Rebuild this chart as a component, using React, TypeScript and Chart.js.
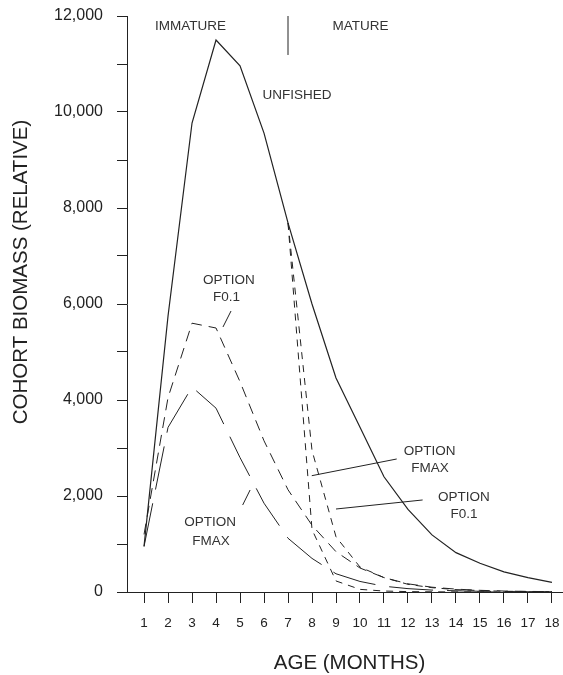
import React, { useEffect, useRef } from "react";
import { Chart, registerables } from "chart.js";

Chart.register(...registerables);

// ---------- data ----------
const ages = [1, 2, 3, 4, 5, 6, 7, 8, 9, 10, 11, 12, 13, 14, 15, 16, 17, 18];
const unfished = [950, 5750, 9770, 11500, 10960, 9560, 7690, 6000, 4460, 3430, 2400, 1720, 1190, 820, 600, 420, 300, 200];
const f01Immature = [1200, 4050, 5600, 5500, 4380, 3150, 2130, 1390, 840, 500, 300, 170, 100, 60, 35, 20, 12, 8];
const fmaxImmature = [950, 3430, 4270, 3830, 2800, 1850, 1120, 700, 380, 220, 120, 70, 40, 25, 15, 10, 6, 4];
const fmaxMature = [null, null, null, null, null, null, 7690, 1300, 230, 55, 20, 8, 4, 2, 1, 1, 0, 0];
const f01Mature = [null, null, null, null, null, null, 7690, 2950, 1150, 520, 300, 160, 90, 50, 30, 15, 10, 5];

const xTickValues = ages;
const yTickValues = [0, 1000, 2000, 3000, 4000, 5000, 6000, 7000, 8000, 9000, 10000, 11000, 12000];

// annotation texts in data units (age, biomass)
const annotationTexts = [
  { text: "IMMATURE", age: 2.94, value: 11790 },
  { text: "MATURE", age: 10.02, value: 11790 },
  { text: "UNFISHED", age: 7.375, value: 10354 },
  { text: "OPTION", age: 4.54, value: 6500 },
  { text: "F0.1", age: 4.44, value: 6146 },
  { text: "OPTION", age: 3.75, value: 1458 },
  { text: "FMAX", age: 3.79, value: 1062 },
  { text: "OPTION", age: 12.9, value: 2937 },
  { text: "FMAX", age: 12.92, value: 2583 },
  { text: "OPTION", age: 14.33, value: 1979 },
  { text: "F0.1", age: 14.33, value: 1625 },
];

// pointer / divider lines in data units
const annotationLines = [
  { a1: 7, v1: 12000, a2: 7, v2: 11188 },
  { a1: 4.625, v1: 5854, a2: 4.29, v2: 5521 },
  { a1: 5.42, v1: 2125, a2: 5.11, v2: 1812 },
  { a1: 11.53, v1: 2771, a2: 7.99, v2: 2423 },
  { a1: 12.61, v1: 1917, a2: 9.0, v2: 1729 },
];

const FONT = "'Liberation Sans', Arial, Helvetica, sans-serif";
const INK = "#222";

const toPoints = (vals: (number | null)[]) =>
  ages.map((a, i) => ({ x: a, y: vals[i] as number | null }));

const annotationPlugin = {
  id: "annotations",
  afterDraw(chart: any) {
    const { ctx, scales } = chart;
    const xs = scales.x;
    const ys = scales.y;
    ctx.save();
    ctx.strokeStyle = INK;
    ctx.lineWidth = 1;
    annotationLines.forEach((l) => {
      ctx.beginPath();
      ctx.moveTo(xs.getPixelForValue(l.a1), ys.getPixelForValue(l.v1));
      ctx.lineTo(xs.getPixelForValue(l.a2), ys.getPixelForValue(l.v2));
      ctx.stroke();
    });
    ctx.fillStyle = "#333";
    ctx.font = `13.5px ${FONT}`;
    ctx.textAlign = "center";
    ctx.textBaseline = "middle";
    annotationTexts.forEach((t) => {
      ctx.fillText(t.text, xs.getPixelForValue(t.age), ys.getPixelForValue(t.value));
    });
    // axis titles
    ctx.fillStyle = INK;
    ctx.font = `20.5px ${FONT}`;
    ctx.fillText("AGE (MONTHS)", 349.5, 663);
    ctx.translate(21, 272);
    ctx.rotate(-Math.PI / 2);
    ctx.fillText("COHORT BIOMASS (RELATIVE)", 0, 0);
    ctx.restore();
  },
};

export default function App() {
  const ref = useRef<HTMLCanvasElement | null>(null);

  useEffect(() => {
    if (!ref.current) return;
    const chart = new Chart(ref.current, {
      type: "line",
      data: {
        datasets: [
          {
            label: "Unfished",
            data: toPoints(unfished),
            borderColor: INK,
            borderWidth: 1.2,
            pointRadius: 0,
            tension: 0,
          },
          {
            label: "Option F0.1 (immature)",
            data: toPoints(f01Immature),
            borderColor: INK,
            borderWidth: 1,
            borderDash: [11, 7],
            pointRadius: 0,
            tension: 0,
          },
          {
            label: "Option FMAX (immature)",
            data: toPoints(fmaxImmature),
            borderColor: INK,
            borderWidth: 1,
            borderDash: [44, 14],
            pointRadius: 0,
            tension: 0,
          },
          {
            label: "Option FMAX (mature)",
            data: toPoints(fmaxMature),
            borderColor: INK,
            borderWidth: 1,
            borderDash: [7, 6],
            pointRadius: 0,
            tension: 0,
          },
          {
            label: "Option F0.1 (mature)",
            data: toPoints(f01Mature),
            borderColor: INK,
            borderWidth: 1,
            borderDash: [7, 6],
            pointRadius: 0,
            tension: 0,
          },
        ],
      },
      options: {
        responsive: false,
        animation: false,
        devicePixelRatio: 1,
        layout: { padding: { top: 16, right: 0, left: 0, bottom: 0 } },
        plugins: {
          legend: { display: false },
          tooltip: { enabled: false },
          title: { display: false },
        },
        scales: {
          x: {
            type: "linear",
            min: 0.29,
            max: 18.46,
            afterBuildTicks: (scale: any) => {
              scale.ticks = xTickValues.map((v) => ({ value: v }));
            },
            afterFit: (scale: any) => {
              scale.height = 83;
              scale.paddingLeft = 0;
              scale.paddingRight = 0;
            },
            ticks: {
              font: { family: FONT, size: 13.5 },
              color: INK,
              padding: 12,
              maxRotation: 0,
              autoSkip: false,
              callback: (v: any) => String(v),
            },
            grid: {
              drawOnChartArea: false,
              drawTicks: true,
              tickLength: 11,
              color: INK,
              lineWidth: 1,
            },
            border: { display: true, color: INK, width: 1 },
          },
          y: {
            type: "linear",
            min: 0,
            max: 12000,
            afterBuildTicks: (scale: any) => {
              scale.ticks = yTickValues.map((v) => ({ value: v }));
            },
            afterFit: (scale: any) => {
              scale.width = 127;
              scale.paddingTop = 0;
              scale.paddingBottom = 0;
            },
            ticks: {
              font: { family: FONT, size: 16 },
              color: INK,
              padding: 14,
              autoSkip: false,
              callback: (v: any) =>
                Number(v) % 2000 === 0 ? Number(v).toLocaleString("en-US") : "",
            },
            grid: {
              drawOnChartArea: false,
              drawTicks: true,
              tickLength: 10,
              color: INK,
              lineWidth: 1,
            },
            border: { display: true, color: INK, width: 1 },
          },
        },
      },
      plugins: [annotationPlugin],
    });
    return () => chart.destroy();
  }, []);

  return (
    <div style={{ position: "fixed", left: 0, top: 0, width: 563, height: 675, background: "#fff" }}>
      <canvas ref={ref} width={563} height={675} style={{ width: 563, height: 675, display: "block" }} />
    </div>
  );
}
